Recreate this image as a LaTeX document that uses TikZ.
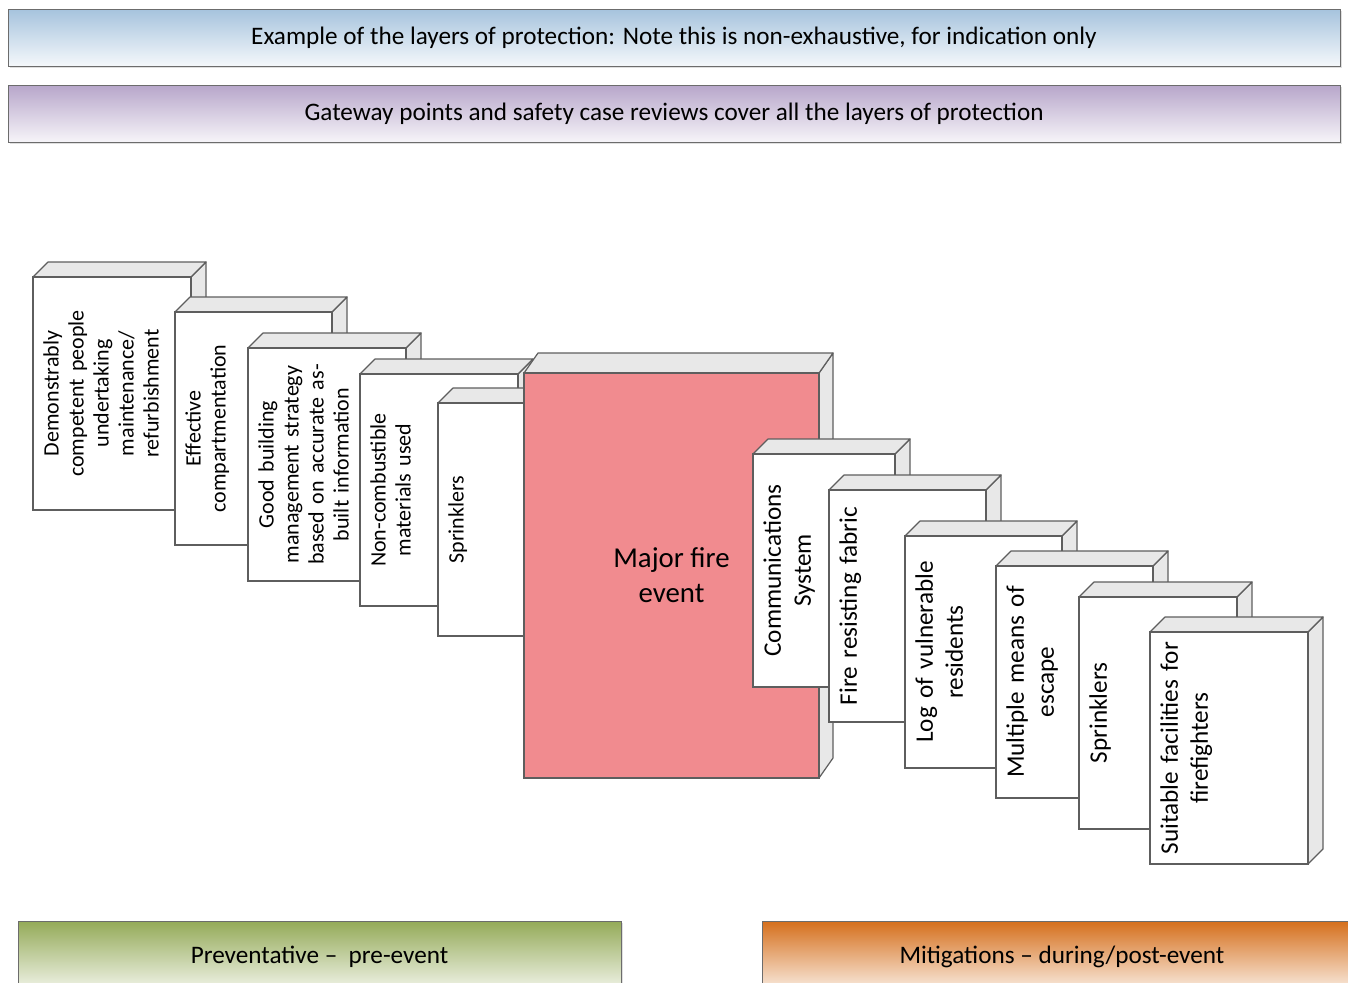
\documentclass[tikz,border=0pt]{standalone}
\usepackage{fontspec}
\setmainfont{Carlito}
\usetikzlibrary{shadows}

\definecolor{edgegray}{HTML}{5E5E5E}
\definecolor{sidegray}{HTML}{E8E8E8}
\definecolor{firered}{HTML}{F18B8F}
\definecolor{bannerblue}{HTML}{A6C3DD}
\definecolor{bannerpurple}{HTML}{B7A6CA}
\definecolor{bannergreen}{HTML}{94AA58}
\definecolor{bannerorange}{HTML}{D56F1C}

\tikzset{
    side/.style={draw=edgegray, fill=sidegray, line width=0.6pt, line join=round},
    front/.style={draw=edgegray, line width=0.6pt, inner sep=0pt, outer sep=0pt, anchor=north west},
    layertext/.style={rotate=90, anchor=north, align=center, inner sep=5pt},
    pretext/.style={layertext, font=\fontsize{11}{12.5}\selectfont},
    mittext/.style={layertext, font=\fontsize{12.6}{15}\selectfont},
    banner/.style={draw=gray!85!black, line width=0.5pt, inner sep=0pt,
        font=\fontsize{12.6}{15}\selectfont,
        drop shadow={shadow xshift=0.8pt, shadow yshift=-0.8pt, opacity=0.25}},
}

% [#1 depth] #2 name, #3 x, #4 y, #5 width, #6 height (px), #7 fill, #8 text style, #9 text
\newcommand{\layerbox}[9][15,-15]{
    \draw[side] (#3+#5,#4) -- ++(#1) -- ++(0,#6) -- (#3+#5,#4+#6) -- cycle;
    \draw[side] (#3,#4) -- ++(#1) -- ++(#5,0) -- (#3+#5,#4) -- cycle;
    \node[front, fill=#7, minimum width=0.5*#5 pt, minimum height=0.5*#6 pt] (#2) at (#3,#4) {};
    \node[#8, text width=\dimexpr #6pt/2-6pt\relax] (#2-txt) at (#2.west) {#9};
}

\begin{document}
\begin{tikzpicture}[x=0.5pt, y=-0.5pt]
    \useasboundingbox (0,0) rectangle (1348,982);
    \clip (0,0) rectangle (1348,982);

    % banners at the top
    \node[banner, top color=bannerblue, bottom color=bannerblue!12!white,
        minimum width=666pt, minimum height=28.5pt] (title) at (674,37.5)
        {Example of the layers of protection: Note this is non-exhaustive, for indication only};
    \node[banner, top color=bannerpurple, bottom color=bannerpurple!12!white,
        minimum width=666pt, minimum height=28.5pt] (gateway) at (674,113.5)
        {Gateway points and safety case reviews cover all the layers of protection};

    % preventative layers
    \layerbox{pre1}{33}{277}{158}{233}{white}{pretext}{Demonstrably\\competent people\\undertaking\\maintenance/\\refurbishment}
    \layerbox{pre2}{175}{312}{157}{233}{white}{pretext}{Effective\\compartmentation}
    \layerbox{pre3}{248}{348}{158}{233}{white}{pretext}{Good building\\management strategy\\based on accurate as-\\built information}
    \layerbox{pre4}{360}{374}{158}{232}{white}{pretext}{Non-combustible\\materials used}
    \layerbox{pre5}{438}{403}{158}{233}{white}{pretext}{Sprinklers}

    % the event
    \layerbox[14,-20]{fire}{524}{373}{295}{405}{firered}{pretext}{}
    \node[align=center, font=\fontsize{14.4}{17.5}\selectfont] (firelbl) at (fire) {Major fire\\event};

    % mitigation layers
    \layerbox{mit1}{753}{454}{142}{233}{white}{mittext}{Communications\\System}
    \layerbox{mit2}{829}{490}{157}{232}{white}{mittext}{Fire resisting fabric}
    \layerbox{mit3}{905}{536}{157}{232}{white}{mittext}{Log of vulnerable\\residents}
    \layerbox{mit4}{996}{566}{157}{232}{white}{mittext}{Multiple means of\\escape}
    \layerbox{mit5}{1079}{597}{158}{232}{white}{mittext}{Sprinklers}
    \layerbox{mit6}{1150}{632}{158}{232}{white}{mittext}{Suitable facilities for\\firefighters}

    % banners at the bottom
    \node[banner, top color=bannergreen, bottom color=bannergreen!10!white,
        minimum width=301.5pt, minimum height=36pt] (prevent) at (319.5,957)
        {Preventative \textendash\ \ pre-event};
    \node[banner, top color=bannerorange, bottom color=bannerorange!10!white,
        minimum width=300pt, minimum height=36pt] (mitigate) at (1062,957)
        {Mitigations \textendash\ during/post-event};
\end{tikzpicture}
\end{document}
